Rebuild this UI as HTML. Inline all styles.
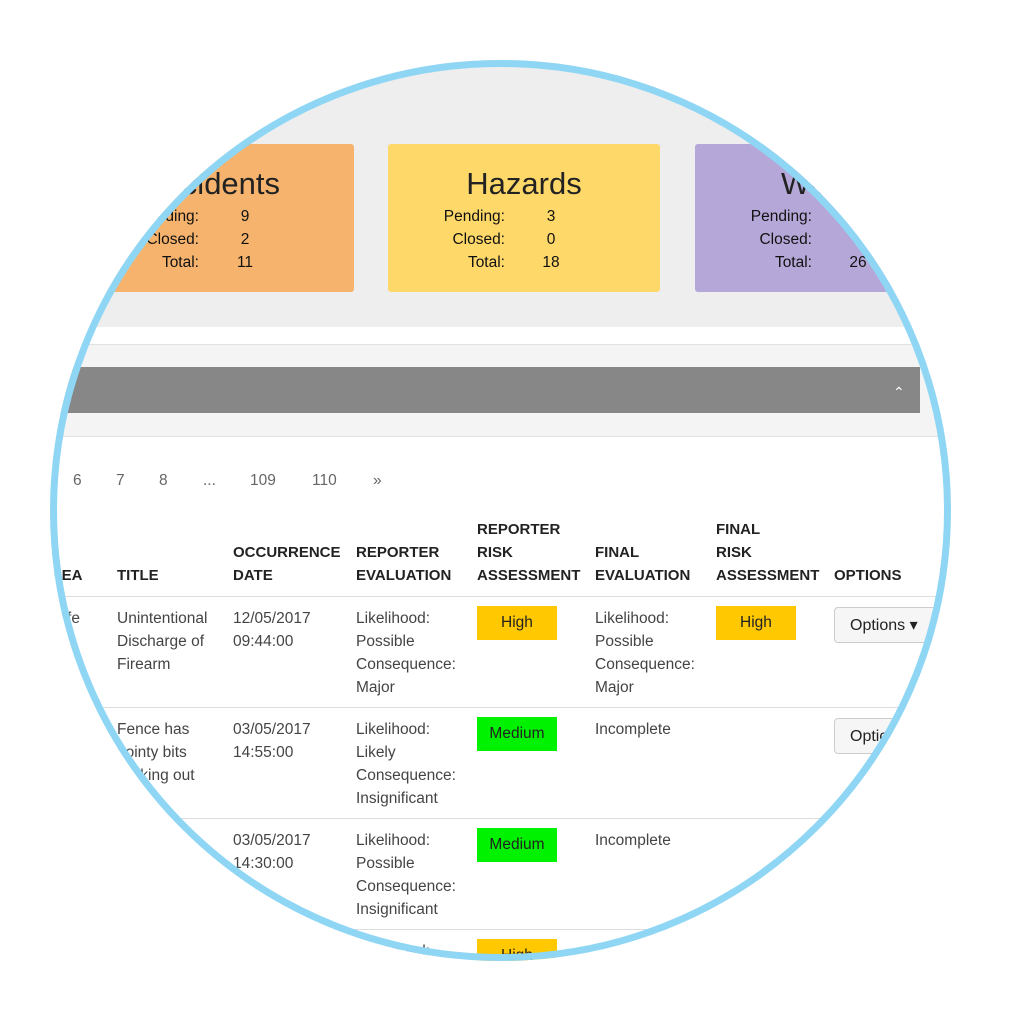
<!DOCTYPE html>
<html><head><meta charset="utf-8"><style>
body{margin:0;width:1024px;height:1024px;background:#fff;position:relative;overflow:hidden;font-family:"Liberation Sans",sans-serif;}
#clip{position:absolute;left:50px;top:60px;width:901px;height:901px;border-radius:50%;overflow:hidden;background:#fff;}
#in{position:absolute;left:-50px;top:-60px;width:1024px;height:1024px;}
.a{position:absolute;}
.card{position:absolute;top:144px;width:272px;height:148px;border-radius:3px;}
.card .t{position:absolute;top:22px;left:0;width:100%;text-align:center;font-size:31px;color:#222;}
.card .r{position:absolute;left:0;width:100%;font-size:15.5px;color:#111;}
.card .r .l{position:absolute;right:155px;}
.card .r .v{position:absolute;left:153px;width:20px;text-align:center;}
.pg{position:absolute;top:472px;font-size:15.5px;color:#666;}
.h{position:absolute;font-size:15px;font-weight:bold;color:#222;line-height:23px;}
.c{position:absolute;font-size:15.5px;color:#444;line-height:23px;}
.hl{position:absolute;left:0;width:1024px;height:1px;background:#ddd;}
.b{position:absolute;width:80px;height:34px;text-align:center;line-height:34px;font-size:15.5px;color:#222;}
.y{background:#ffc800;} .g{background:#00f200;}
.btn{position:absolute;width:110px;height:36px;border:1px solid #ccc;border-radius:4px;background:#f6f6f6;font-size:16px;color:#222;line-height:36px;padding-left:15px;box-sizing:border-box;}
#ring{position:absolute;left:50px;top:60px;width:901px;height:901px;border-radius:50%;border:7px solid #8fd6f5;box-sizing:border-box;}
</style></head><body>
<div id="clip"><div id="in">
<div class="a" style="left:0;top:0;width:1024px;height:327px;background:#eeeeee"></div>
<div class="card" style="left:82px;background:#f5b36d"><div class="t">Incidents</div>
<div class="r" style="top:64px"><span class="l">Pending:</span><span class="v">9</span></div>
<div class="r" style="top:87px"><span class="l">Closed:</span><span class="v">2</span></div>
<div class="r" style="top:110px"><span class="l">Total:</span><span class="v">11</span></div></div>
<div class="card" style="left:388px;background:#fed96a"><div class="t">Hazards</div>
<div class="r" style="top:64px"><span class="l">Pending:</span><span class="v">3</span></div>
<div class="r" style="top:87px"><span class="l">Closed:</span><span class="v">0</span></div>
<div class="r" style="top:110px"><span class="l">Total:</span><span class="v">18</span></div></div>
<div class="card" style="left:695px;background:#b5a7d8"><div class="t">Wildlife</div>
<div class="r" style="top:64px"><span class="l">Pending:</span><span class="v">4</span></div>
<div class="r" style="top:87px"><span class="l">Closed:</span><span class="v">1</span></div>
<div class="r" style="top:110px"><span class="l">Total:</span><span class="v">26</span></div></div>
<div class="a" style="left:0;top:344px;width:1024px;height:1px;background:#e2e2e2"></div>
<div class="a" style="left:0;top:345px;width:1024px;height:91px;background:#f4f4f4"></div>
<div class="a" style="left:0;top:367px;width:920px;height:46px;background:#878787"></div>
<div class="a" style="left:893px;top:384px;color:#fff;font-size:14px">&#8963;</div>
<div class="a" style="left:0;top:436px;width:1024px;height:1px;background:#e2e2e2"></div>
<div class="pg" style="left:73px">6</div><div class="pg" style="left:116px">7</div><div class="pg" style="left:159px">8</div>
<div class="pg" style="left:203px">...</div><div class="pg" style="left:250px">109</div><div class="pg" style="left:312px">110</div><div class="pg" style="left:373px">»</div>
<div class="h" style="left:40px;top:564px">AREA</div>
<div class="h" style="left:117px;top:564px">TITLE</div>
<div class="h" style="left:233px;top:541px">OCCURRENCE<br>DATE</div>
<div class="h" style="left:356px;top:541px">REPORTER<br>EVALUATION</div>
<div class="h" style="left:477px;top:518px">REPORTER<br>RISK<br>ASSESSMENT</div>
<div class="h" style="left:595px;top:541px">FINAL<br>EVALUATION</div>
<div class="h" style="left:716px;top:518px">FINAL<br>RISK<br>ASSESSMENT</div>
<div class="h" style="left:834px;top:564px">OPTIONS</div>
<div class="hl" style="top:596px"></div>
<div class="c" style="left:30px;top:607px">Wildlife</div>
<div class="c" style="left:117px;top:607px">Unintentional<br>Discharge of<br>Firearm</div>
<div class="c" style="left:233px;top:607px">12/05/2017<br>09:44:00</div>
<div class="c" style="left:356px;top:607px">Likelihood:<br>Possible<br>Consequence:<br>Major</div>
<div class="b y" style="left:477px;top:606px">High</div>
<div class="c" style="left:595px;top:607px">Likelihood:<br>Possible<br>Consequence:<br>Major</div>
<div class="b y" style="left:716px;top:606px">High</div>
<div class="btn" style="left:834px;top:607px">Options &#9662;</div>
<div class="hl" style="top:707px"></div>
<div class="c" style="left:117px;top:718px">Fence has<br>pointy bits<br>sticking out</div>
<div class="c" style="left:233px;top:718px">03/05/2017<br>14:55:00</div>
<div class="c" style="left:356px;top:718px">Likelihood:<br>Likely<br>Consequence:<br>Insignificant</div>
<div class="b g" style="left:477px;top:717px">Medium</div>
<div class="c" style="left:595px;top:718px">Incomplete</div>
<div class="btn" style="left:834px;top:718px">Options &#9662;</div>
<div class="hl" style="top:818px"></div>
<div class="c" style="left:233px;top:829px">03/05/2017<br>14:30:00</div>
<div class="c" style="left:356px;top:829px">Likelihood:<br>Possible<br>Consequence:<br>Insignificant</div>
<div class="b g" style="left:477px;top:828px">Medium</div>
<div class="c" style="left:595px;top:829px">Incomplete</div>
<div class="hl" style="top:929px"></div>
<div class="c" style="left:356px;top:940px">Likelihood:</div>
<div class="b y" style="left:477px;top:939px">High</div>
</div></div>
<div id="ring"></div>
</body></html>
